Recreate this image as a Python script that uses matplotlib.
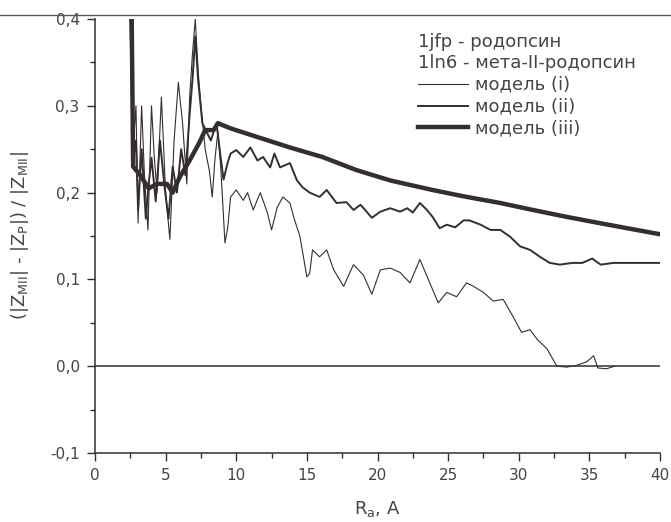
import matplotlib
matplotlib.use("Agg")
import matplotlib.pyplot as plt
from matplotlib.lines import Line2D
from matplotlib.ticker import MultipleLocator, FuncFormatter

plt.rcParams['font.family'] = ['DejaVu Sans']
plt.rcParams['mathtext.default'] = 'regular'

# model (i) - thin line
x1 = [2.5, 2.7, 2.9, 3.05, 3.3, 3.5, 3.75, 4.0, 4.2, 4.4, 4.7, 5.0, 5.3, 5.6, 5.9, 6.2, 6.5, 6.7,
      6.9, 7.1, 7.3, 7.5, 7.8, 8.1, 8.3, 8.5, 8.7, 8.9, 9.2, 9.4, 9.6, 10.0, 10.5, 10.8, 11.2, 11.7,
      12.2, 12.5, 12.9, 13.3, 13.8, 14.1, 14.5, 15.0, 15.2, 15.4, 15.9, 16.4, 16.9, 17.6, 18.3, 19.0,
      19.6, 20.2, 20.9, 21.6, 22.3, 23.0, 23.7, 24.3, 24.9, 25.6, 26.3, 26.8, 27.5, 28.2, 28.9, 29.6,
      30.2, 30.8, 31.3, 32.0, 32.7, 33.4, 34.1, 34.8, 35.3, 35.6, 36.2, 36.8]
y1 = [0.40, 0.25, 0.30, 0.165, 0.30, 0.22, 0.157, 0.30, 0.24, 0.20, 0.31, 0.20, 0.146, 0.26, 0.327,
      0.28, 0.21, 0.31, 0.36, 0.40, 0.34, 0.30, 0.25, 0.225, 0.195, 0.24, 0.27, 0.23, 0.142, 0.16,
      0.195, 0.203, 0.191, 0.20, 0.18, 0.20, 0.177, 0.157, 0.183, 0.195, 0.188, 0.17, 0.15, 0.103,
      0.107, 0.134, 0.126, 0.134, 0.111, 0.092, 0.117, 0.105, 0.083, 0.111, 0.113, 0.108, 0.096,
      0.123, 0.096, 0.073, 0.085, 0.08, 0.096, 0.092, 0.085, 0.075, 0.077, 0.057, 0.039, 0.042,
      0.031, 0.02, 0.0, -0.001, 0.001, 0.005, 0.012, -0.002, -0.003, 0.0]

# model (ii) - medium line
x2 = [2.5, 2.7, 2.9, 3.05, 3.3, 3.6, 3.8, 4.0, 4.3, 4.6, 4.9, 5.2, 5.5, 5.8, 6.1, 6.4, 6.7, 6.9,
      7.1, 7.3, 7.6, 7.9, 8.2, 8.6, 8.9, 9.1, 9.4, 9.6, 10.0, 10.5, 11.0, 11.5, 11.9, 12.4, 12.7,
      13.1, 13.8, 14.3, 14.7, 15.2, 15.9, 16.4, 17.1, 17.8, 18.3, 18.8, 19.6, 20.2, 20.9, 21.6, 22.1,
      22.5, 23.0, 23.5, 23.9, 24.4, 24.9, 25.5, 26.1, 26.5, 27.3, 28.0, 28.7, 29.4, 30.1, 30.8, 31.5,
      32.2, 32.9, 33.8, 34.5, 35.2, 35.8, 36.7, 38.1, 40.0]
y2 = [0.40, 0.24, 0.26, 0.18, 0.25, 0.17, 0.21, 0.24, 0.19, 0.26, 0.21, 0.17, 0.23, 0.20, 0.25,
      0.22, 0.29, 0.33, 0.38, 0.33, 0.28, 0.27, 0.26, 0.28, 0.24, 0.215, 0.235, 0.245, 0.249, 0.241,
      0.252, 0.237, 0.241, 0.229, 0.245, 0.229, 0.234, 0.214, 0.206, 0.20, 0.195, 0.203, 0.188,
      0.189, 0.18, 0.186, 0.171, 0.178, 0.182, 0.178, 0.182, 0.177, 0.188, 0.18, 0.172, 0.159,
      0.163, 0.16, 0.168, 0.168, 0.163, 0.157, 0.157, 0.149, 0.138, 0.134, 0.126, 0.119, 0.117,
      0.119, 0.119, 0.124, 0.117, 0.119, 0.119, 0.119]

# model (iii) - thick line
x3 = [2.6, 2.7, 3.2, 3.8, 4.4, 5.1, 5.5, 6.0, 6.7, 7.4, 7.8, 8.4, 8.7, 9.6, 11.5, 13.8, 16.1,
      18.5, 20.9, 23.9, 26.0, 28.7, 31.0, 33.4, 36.0, 38.0, 40.0]
y3 = [0.40, 0.23, 0.22, 0.205, 0.21, 0.21, 0.20, 0.218, 0.237, 0.258, 0.272, 0.272, 0.28, 0.274,
      0.264, 0.252, 0.241, 0.226, 0.214, 0.203, 0.196, 0.188, 0.18, 0.172, 0.164, 0.158, 0.152]

header_lines = ["1jfp - родопсин", "1ln6 - мета-II-родопсин"]
model_labels = ["модель (i)", "модель (ii)", "модель (iii)"]

ink = "#352e2e"
txt = "#444444"

fig = plt.figure(figsize=(6.71, 5.22), dpi=100)
ax = fig.add_axes([95/671, 1-453/522, 565/671, 434/522])

ax.axhline(0.0, color=ink, lw=1.1, zorder=1)
l1, = ax.plot(x1, y1, color=ink, lw=0.8, zorder=3)
l2, = ax.plot(x2, y2, color=ink, lw=1.4, zorder=4)
l3, = ax.plot(x3, y3, color=ink, lw=3.2, zorder=5)

ax.set_xlim(0, 40)
ax.set_ylim(-0.1, 0.4)
ax.xaxis.set_major_locator(MultipleLocator(5))
ax.xaxis.set_minor_locator(MultipleLocator(2.5))
ax.yaxis.set_major_locator(MultipleLocator(0.1))
ax.yaxis.set_minor_locator(MultipleLocator(0.05))
ax.yaxis.set_major_formatter(FuncFormatter(lambda v, p: f"{v:.1f}".replace(".", ",").replace("-0,0", "0,0")))
ax.tick_params(axis='both', which='major', direction='out', length=6, width=1.0, color=ink,
               labelsize=11, labelcolor=txt, pad=5)
ax.tick_params(axis='both', which='minor', direction='out', length=3.5, width=1.0, color=ink)

for s in ['right', 'top']:
    ax.spines[s].set_visible(False)
for s in ['left', 'bottom']:
    ax.spines[s].set_color(ink)
    ax.spines[s].set_linewidth(1.1)

ax.set_xlabel(r"R$_a$, A", fontsize=13, color=txt, labelpad=11)
ax.set_ylabel(r"(|Z$_{MII}$| - |Z$_P$|) / |Z$_{MII}$|", fontsize=13, color=txt, labelpad=14)

# page rule at the top of the scan
fig.add_artist(Line2D([0, 1], [1-15/522, 1-15/522], color="#555555", lw=1.0))

ax.text(0.572, 0.947, header_lines[0], transform=ax.transAxes, fontsize=13, color=txt,
        ha='left', va='center')
ax.text(0.572, 0.899, header_lines[1], transform=ax.transAxes, fontsize=13, color=txt,
        ha='left', va='center')

leg = ax.legend([l1, l2, l3], model_labels, loc='upper left', bbox_to_anchor=(0.572, 0.869),
                frameon=False, fontsize=13, handlelength=2.77, handletextpad=0.39,
                labelspacing=0.22, borderpad=0, borderaxespad=0)
for t in leg.get_texts():
    t.set_color(txt)

fig.savefig("out.png", dpi=100, facecolor='white')
